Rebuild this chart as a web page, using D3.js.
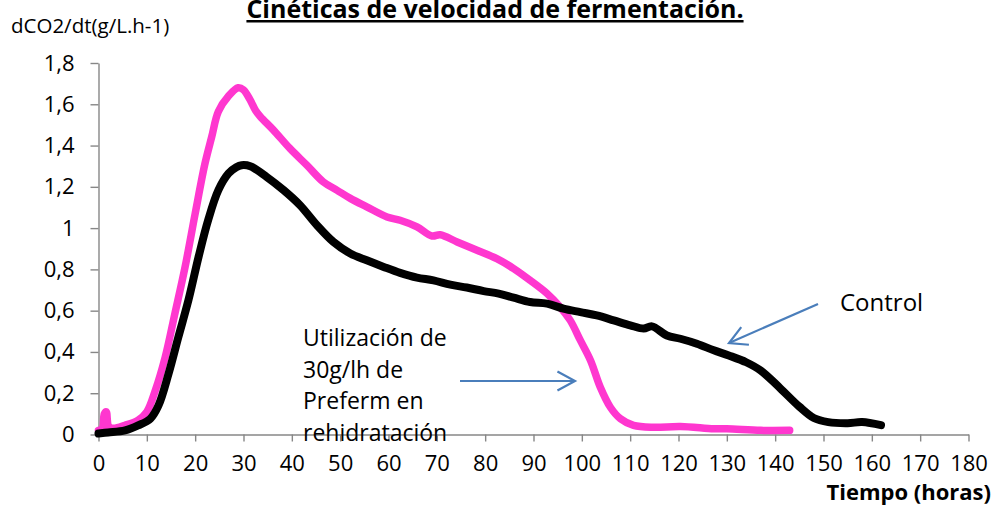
<!DOCTYPE html>
<html>
<head>
<meta charset="utf-8">
<script src="https://cdn.jsdelivr.net/npm/d3@7"></script>
<style>
    body { margin: 0; background: #fff; }
    svg { font-family: "Open Sans", sans-serif; }
</style>
</head>
<body>
<script>
// Fermentation kinetics: dCO2/dt over time, control vs Preferm rehydration

// time (hours) and rate (g/L.h) for the Preferm line
var prefermTime = [0, 0.8, 1.2, 1.6, 2.1, 3, 5.5, 8.2, 10, 11.7, 13.8, 15.8,
    17.9, 20, 22, 23.4, 24.8, 26.9, 28.9, 30, 31.4, 32.5, 33.5, 36.2, 39.6,
    43.1, 46.5, 49.3, 52.1, 55.5, 59.7, 62.4, 65.9, 69, 70.7, 74.2, 78.3,
    82.4, 85.9, 89.3, 92.8, 95.5, 97.6, 99.7, 101.8, 103.8, 105.9, 108,
    110.7, 114.9, 120.4, 127.3, 130, 137, 143];
var prefermRate = [0.02, 0.03, 0.1, 0.11, 0.04, 0.03, 0.045, 0.07, 0.11,
    0.21, 0.375, 0.585, 0.81, 1.07, 1.31, 1.44, 1.565, 1.64, 1.68, 1.67,
    1.62, 1.57, 1.54, 1.475, 1.386, 1.305, 1.224, 1.184, 1.144, 1.103, 1.054,
    1.038, 1.006, 0.962, 0.968, 0.933, 0.893, 0.852, 0.804, 0.747, 0.683,
    0.618, 0.553, 0.456, 0.359, 0.23, 0.132, 0.076, 0.044, 0.035, 0.039,
    0.028, 0.028, 0.02, 0.02];

// time (hours) and rate (g/L.h) for the control line
var controlTime = [0, 2, 5.5, 8.2, 10.7, 12.4, 14.5, 16.5, 18.6, 20.7, 22.7,
    24.8, 26.9, 28.5, 29.6, 31.4, 34.8, 38.3, 41.7, 45.2, 48.6, 52.1, 55.5,
    59, 62.4, 65.9, 69.3, 72.8, 76.2, 79.7, 82.8, 85.9, 89.3, 92.8, 96.2,
    99.7, 103.1, 106.6, 110, 112.8, 114.5, 117.6, 120.4, 123.8, 127.3, 130.4,
    134, 137, 141, 145, 148, 151, 155, 158, 161.9];
var controlRate = [0.005, 0.01, 0.02, 0.044, 0.076, 0.14, 0.295, 0.47, 0.65,
    0.86, 1.04, 1.184, 1.265, 1.295, 1.305, 1.3, 1.248, 1.184, 1.111, 1.014,
    0.933, 0.877, 0.844, 0.812, 0.783, 0.76, 0.747, 0.726, 0.712, 0.695,
    0.683, 0.663, 0.642, 0.634, 0.61, 0.593, 0.577, 0.553, 0.529, 0.513,
    0.524, 0.48, 0.464, 0.44, 0.408, 0.383, 0.35, 0.31, 0.225, 0.135, 0.08,
    0.06, 0.055, 0.06, 0.045];

var xTicks = d3.range(0, 181, 10);
var yTicks = [0, 0.2, 0.4, 0.6, 0.8, 1, 1.2, 1.4, 1.6, 1.8];

var width = 994,
    height = 505;

var svg = d3.select("body").append("svg")
    .attr("width", width)
    .attr("height", height);

// plot area
var xScale = d3.scaleLinear().domain([0, 180]).range([98.5, 968.5]);
var yScale = d3.scaleLinear().domain([0, 1.8]).range([434.5, 63]);

var axisColor = "#878787";

// x axis, ticks pointing down
var xAxis = d3.axisBottom(xScale)
    .tickValues(xTicks)
    .tickSizeInner(7)
    .tickSizeOuter(0)
    .tickPadding(14)
    .tickFormat(d3.format("d"));

var gx = svg.append("g")
    .attr("transform", "translate(0," + yScale(0) + ")")
    .call(xAxis);

// y axis, comma as decimal mark
var yAxis = d3.axisLeft(yScale)
    .tickValues(yTicks)
    .tickSizeInner(8)
    .tickSizeOuter(0)
    .tickPadding(16)
    .tickFormat(function(d) { return String(d).replace(".", ","); });

var gy = svg.append("g")
    .attr("transform", "translate(" + xScale(0) + ",0)")
    .call(yAxis);

[gx, gy].forEach(function(g) {
    g.select(".domain").attr("stroke", axisColor).attr("stroke-width", 1.4);
    g.selectAll(".tick line").attr("stroke", axisColor).attr("stroke-width", 1.4);
    g.selectAll(".tick text")
        .attr("fill", "#000")
        .style("font-family", "Open Sans, sans-serif")
        .style("font-size", "22px");
});

// lines
var line = d3.line()
    .x(function(d) { return xScale(d[0]); })
    .y(function(d) { return yScale(d[1]); })
    .curve(d3.curveCatmullRom.alpha(0.5));

var prefermData = prefermTime.map(function(t, i) { return [t, prefermRate[i]]; });
var controlData = controlTime.map(function(t, i) { return [t, controlRate[i]]; });

svg.append("path")
    .datum(prefermData)
    .attr("d", line)
    .attr("fill", "none")
    .attr("stroke", "#ff37cf")
    .attr("stroke-width", 7.5)
    .attr("stroke-linejoin", "round")
    .attr("stroke-linecap", "round");

svg.append("path")
    .datum(controlData)
    .attr("d", line)
    .attr("fill", "none")
    .attr("stroke", "#000")
    .attr("stroke-width", 8)
    .attr("stroke-linejoin", "round")
    .attr("stroke-linecap", "round");

// title, underlined, cut at the top edge like the original
svg.append("text")
    .attr("x", 495)
    .attr("y", 18)
    .attr("text-anchor", "middle")
    .style("font-weight", "bold")
    .style("font-size", "25px")
    .style("text-decoration", "underline")
    .text("Cinéticas de velocidad de fermentación.");

// axis titles
svg.append("text")
    .attr("x", 11)
    .attr("y", 33)
    .style("font-size", "20.5px")
    .text("dCO2/dt(g/L.h-1)");

svg.append("text")
    .attr("x", 991)
    .attr("y", 500)
    .attr("text-anchor", "end")
    .style("font-weight", "bold")
    .style("font-size", "22px")
    .text("Tiempo (horas)");

// annotations
var noteLines = ["Utilización de", "30g/lh de", "Preferm en", "rehidratación"];
svg.append("text")
    .attr("x", 303)
    .attr("y", 346)
    .style("font-size", "23px")
    .selectAll("tspan")
    .data(noteLines)
    .enter()
    .append("tspan")
    .attr("x", 303)
    .attr("dy", function(d, i) { return i === 0 ? 0 : 31.5; })
    .text(function(d) { return d; });

svg.append("text")
    .attr("x", 840)
    .attr("y", 311)
    .style("font-size", "24px")
    .text("Control");

// blue arrows
var arrowColor = "#4a7ebb";
function arrow(x1, y1, x2, y2) {
    var a = Math.atan2(y2 - y1, x2 - x1),
        len = 20,
        spread = 0.5;
    svg.append("line")
        .attr("x1", x1).attr("y1", y1)
        .attr("x2", x2).attr("y2", y2)
        .attr("stroke", arrowColor)
        .attr("stroke-width", 2.2);
    svg.append("path")
        .attr("d", "M" + (x2 - len * Math.cos(a - spread)) + "," +
            (y2 - len * Math.sin(a - spread)) +
            "L" + x2 + "," + y2 +
            "L" + (x2 - len * Math.cos(a + spread)) + "," +
            (y2 - len * Math.sin(a + spread)))
        .attr("fill", "none")
        .attr("stroke", arrowColor)
        .attr("stroke-width", 2.2);
}
arrow(460, 381, 575, 381);
arrow(818, 304, 729, 343);
</script>
</body>
</html>
